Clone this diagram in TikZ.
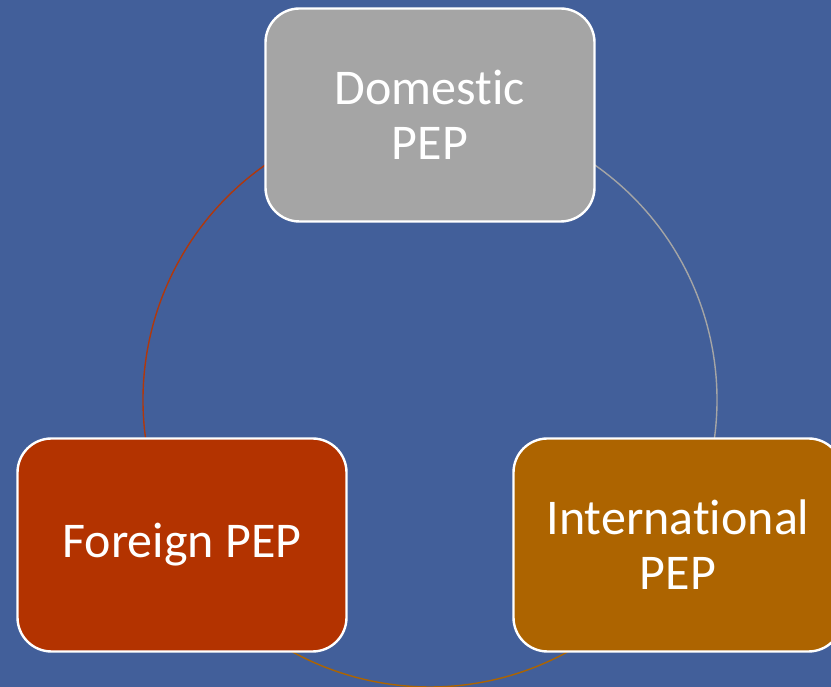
\documentclass[tikz,border=0pt]{standalone}
\usepackage{fontspec}
\setmainfont[Ligatures={NoCommon,NoContextual}]{Carlito}
\definecolor{bgblue}{HTML}{425F9A}
\definecolor{boxgray}{HTML}{A5A5A5}
\definecolor{boxred}{HTML}{B33300}
\definecolor{boxorange}{HTML}{AD6400}
\definecolor{arcred}{HTML}{B0380C}
\begin{document}
\begin{tikzpicture}[x=1pt,y=1pt,
  pepbox/.style={draw=white, line width=2.4pt, rounded corners=34pt,
    minimum width=329pt, minimum height=213pt, inner sep=0pt,
    align=center, text=white, font=\fontsize{50}{55}\selectfont},
  ring/.style={line width=1.4pt}]
\fill[bgblue] (0,0) rectangle (831,687);
\useasboundingbox (0,0) rectangle (831,687);
\coordinate (c) at (430,287);
\draw[ring, arcred] (c) ++(118:287) arc[start angle=118, end angle=192, radius=287];
\draw[ring, boxgray] (c) ++(-12:287) arc[start angle=-12, end angle=62, radius=287];
\draw[ring, boxorange] (c) ++(232:287) arc[start angle=232, end angle=308, radius=287];
\node[pepbox, fill=boxgray] (dom) at (430,572) {Domestic\\PEP};
\node[pepbox, fill=boxred] (for) at (182,142) {Foreign PEP};
\node[pepbox, fill=boxorange] (int) at (678,142) {International\\PEP};
\end{tikzpicture}
\end{document}
